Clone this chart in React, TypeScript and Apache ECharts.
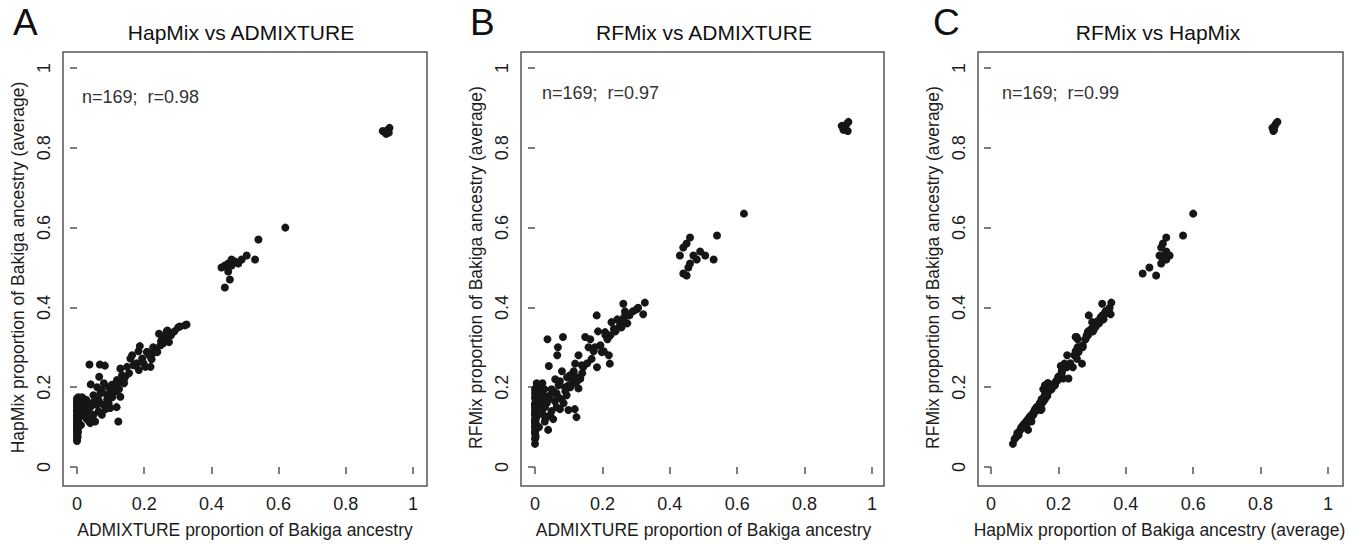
import { useEffect, useRef } from "react";
import * as echarts from "echarts";

// Each individual: [ADMIXTURE, HapMix (average), RFMix (average)] proportion of Bakiga ancestry
type Ind = [number, number, number];

const columnAtZero: Ind[] = [
  [0, 0.065, 0.058], [0, 0.07, 0.07], [0.002, 0.075, 0.075], [0, 0.078, 0.085], [0.001, 0.082, 0.08],
  [0, 0.085, 0.09], [0.003, 0.088, 0.095], [0, 0.09, 0.1], [0.001, 0.093, 0.098], [0.002, 0.095, 0.105],
  [0, 0.098, 0.1], [0, 0.1, 0.11], [0.003, 0.103, 0.108], [0.001, 0.105, 0.115], [0, 0.108, 0.112],
  [0.002, 0.11, 0.12], [0, 0.112, 0.118], [0.004, 0.115, 0.125], [0.001, 0.118, 0.122], [0, 0.12, 0.13],
  [0.003, 0.122, 0.128], [0, 0.125, 0.135], [0.002, 0.128, 0.14], [0, 0.13, 0.138], [0.001, 0.132, 0.145],
  [0.004, 0.135, 0.142], [0, 0.138, 0.15], [0.002, 0.14, 0.148], [0, 0.142, 0.155], [0.003, 0.145, 0.152],
  [0.001, 0.147, 0.16], [0, 0.15, 0.158], [0.004, 0.152, 0.165], [0.002, 0.155, 0.17], [0, 0.157, 0.175],
  [0.001, 0.16, 0.17], [0.005, 0.162, 0.18], [0, 0.165, 0.185], [0.003, 0.167, 0.178], [0.002, 0.17, 0.19],
  [0, 0.172, 0.195], [0.004, 0.175, 0.2], [0.006, 0.16, 0.205], [0.005, 0.168, 0.21], [0.007, 0.155, 0.195],
];

const upperArm: Ind[] = [
  [0.008, 0.172, 0.2], [0.012, 0.168, 0.19], [0.015, 0.175, 0.205], [0.018, 0.165, 0.185], [0.022, 0.17, 0.21],
  [0.025, 0.162, 0.18], [0.028, 0.168, 0.195], [0.032, 0.16, 0.175], [0.01, 0.158, 0.17], [0.02, 0.15, 0.16],
];

const lowerArm: Ind[] = [
  [0.015, 0.14, 0.15], [0.02, 0.13, 0.14], [0.025, 0.125, 0.13], [0.029, 0.12, 0.114], [0.035, 0.115, 0.125],
  [0.039, 0.11, 0.093], [0.045, 0.12, 0.13], [0.054, 0.114, 0.12], [0.012, 0.105, 0.1], [0.03, 0.135, 0.15],
];

const lowBlob: Ind[] = [
  [0.049, 0.18, 0.195], [0.064, 0.168, 0.185], [0.074, 0.193, 0.215], [0.079, 0.156, 0.17], [0.089, 0.181, 0.2],
  [0.099, 0.148, 0.143], [0.104, 0.206, 0.23], [0.114, 0.189, 0.21], [0.119, 0.218, 0.259], [0.129, 0.176, 0.197],
  [0.134, 0.214, 0.222], [0.139, 0.218, 0.255], [0.059, 0.156, 0.165], [0.074, 0.131, 0.145], [0.064, 0.139, 0.15],
  [0.049, 0.131, 0.14], [0.055, 0.17, 0.19], [0.085, 0.145, 0.16], [0.095, 0.2, 0.225], [0.118, 0.15, 0.145],
  [0.07, 0.185, 0.205], [0.04, 0.15, 0.17], [0.09, 0.17, 0.19], [0.12, 0.2, 0.226], [0.1, 0.19, 0.205],
  [0.06, 0.2, 0.22], [0.08, 0.21, 0.24], [0.045, 0.16, 0.18], [0.105, 0.175, 0.2], [0.125, 0.195, 0.215],
  [0.035, 0.145, 0.16], [0.115, 0.21, 0.24], [0.069, 0.16, 0.175], [0.094, 0.16, 0.18], [0.11, 0.2, 0.22],
];

const outliers: Ind[] = [
  [0.037, 0.257, 0.32], [0.068, 0.257, 0.3], [0.083, 0.254, 0.326], [0.066, 0.226, 0.28], [0.041, 0.207, 0.253],
  [0.123, 0.114, 0.125],
];

const chain: Ind[] = [
  [0.129, 0.247, 0.28], [0.134, 0.23, 0.222], [0.143, 0.225, 0.25], [0.149, 0.251, 0.326], [0.159, 0.272, 0.3],
  [0.164, 0.28, 0.32], [0.168, 0.255, 0.271], [0.174, 0.255, 0.29], [0.183, 0.29, 0.38], [0.184, 0.243, 0.25],
  [0.187, 0.303, 0.34], [0.194, 0.272, 0.305], [0.198, 0.26, 0.288], [0.204, 0.251, 0.29], [0.208, 0.288, 0.338],
  [0.209, 0.288, 0.33], [0.219, 0.251, 0.28], [0.222, 0.27, 0.259], [0.224, 0.284, 0.33], [0.227, 0.3, 0.363],
  [0.234, 0.297, 0.346], [0.239, 0.288, 0.34], [0.244, 0.334, 0.37], [0.249, 0.305, 0.35], [0.254, 0.321, 0.36],
  [0.257, 0.31, 0.35], [0.262, 0.33, 0.409], [0.264, 0.325, 0.375], [0.267, 0.34, 0.39], [0.269, 0.342, 0.385],
  [0.274, 0.313, 0.36], [0.28, 0.33, 0.38], [0.301, 0.35, 0.395], [0.306, 0.352, 0.399], [0.321, 0.355, 0.383],
  [0.326, 0.357, 0.412], [0.14, 0.21, 0.235], [0.155, 0.235, 0.26], [0.178, 0.26, 0.3], [0.215, 0.28, 0.32],
  [0.25, 0.315, 0.365], [0.29, 0.34, 0.39],
];

const middleCluster: Ind[] = [
  [0.43, 0.5, 0.53], [0.44, 0.505, 0.55], [0.45, 0.51, 0.56], [0.46, 0.52, 0.575], [0.47, 0.515, 0.53],
  [0.48, 0.51, 0.52], [0.49, 0.52, 0.54], [0.455, 0.47, 0.5], [0.44, 0.45, 0.485], [0.505, 0.53, 0.53],
  [0.53, 0.52, 0.52], [0.54, 0.57, 0.58], [0.62, 0.6, 0.635], [0.46, 0.505, 0.51], [0.45, 0.49, 0.48],
];

const highCluster: Ind[] = [
  [0.915, 0.84, 0.845], [0.92, 0.835, 0.85], [0.925, 0.845, 0.86], [0.93, 0.85, 0.865], [0.91, 0.842, 0.855],
  [0.928, 0.838, 0.842],
];

const individuals: Ind[] = [
  ...columnAtZero, ...upperArm, ...lowerArm, ...lowBlob, ...outliers, ...chain, ...middleCluster, ...highCluster,
];
const admixture = individuals.map((d) => d[0]);
const hapmix = individuals.map((d) => d[1]);
const rfmix = individuals.map((d) => d[2]);

const panelLetters = ["A", "B", "C"];
const panelTitles = ["HapMix vs ADMIXTURE", "RFMix vs ADMIXTURE", "RFMix vs HapMix"];
const xNames = [
  "ADMIXTURE proportion of Bakiga ancestry",
  "ADMIXTURE proportion of Bakiga ancestry",
  "HapMix proportion of Bakiga ancestry (average)",
];
const yNames = [
  "HapMix proportion of Bakiga ancestry (average)",
  "RFMix proportion of Bakiga ancestry (average)",
  "RFMix proportion of Bakiga ancestry (average)",
];
const notes = ["n=169;  r=0.98", "n=169;  r=0.97", "n=169;  r=0.99"];
const xData = [admixture, admixture, hapmix];
const yData = [hapmix, rfmix, rfmix];

// layout (pixels)
const innerLeft = [77, 535, 991];
const innerWidth = [336, 337, 337];
const innerTop = 68;
const innerHeight = 401;
const boxLeft = [63, 521, 978];
const boxRight = [427, 884, 1343];
const boxTop = 52;
const boxBottom = 486;
const letterX = [13, 470, 933];
const titleX = [241, 704, 1158];
const noteX = [82, 542, 1002];
const noteY = [97, 93, 93];

const FONT = "'Liberation Sans', Arial, Helvetica, sans-serif";
const AXIS_COLOR = "#555";
const TEXT_COLOR = "#1c1c1c";

export default function App() {
  const ref = useRef<HTMLDivElement>(null);
  useEffect(() => {
    if (!ref.current) return;
    const chart = echarts.init(ref.current, null, { renderer: "svg" });
    const grids: any[] = [];
    const xAxes: any[] = [];
    const yAxes: any[] = [];
    const series: any[] = [];
    const graphics: any[] = [];
    for (let i = 0; i < 3; i++) {
      grids.push({ left: innerLeft[i], top: innerTop, width: innerWidth[i], height: innerHeight });
      const common = {
        type: "value",
        min: 0,
        max: 1,
        interval: 0.2,
        nameLocation: "middle",
        nameTextStyle: { fontFamily: FONT, fontSize: 17.5, color: TEXT_COLOR },
        axisLine: { show: false },
        axisTick: { show: true, length: 7, lineStyle: { color: AXIS_COLOR, width: 1.5 } },
        splitLine: { show: false },
      };
      xAxes.push({
        ...common,
        gridIndex: i,
        position: "bottom",
        offset: boxBottom - (innerTop + innerHeight),
        name: xNames[i],
        nameGap: 37,
        axisLabel: { fontFamily: FONT, fontSize: 18, color: TEXT_COLOR, margin: 11 },
      });
      yAxes.push({
        ...common,
        gridIndex: i,
        position: "left",
        offset: innerLeft[i] - boxLeft[i],
        name: yNames[i],
        nameGap: 36,
        axisLabel: { fontFamily: FONT, fontSize: 18, color: TEXT_COLOR, margin: 10, rotate: 90 },
      });
      series.push({
        type: "scatter",
        xAxisIndex: i,
        yAxisIndex: i,
        symbol: "circle",
        symbolSize: 8,
        clip: false,
        itemStyle: { color: "#161616", opacity: 1 },
        data: xData[i].map((v, k) => [v, yData[i][k]]),
      });
      graphics.push({
        type: "rect",
        shape: { x: boxLeft[i], y: boxTop, width: boxRight[i] - boxLeft[i], height: boxBottom - boxTop },
        style: { fill: "none", stroke: AXIS_COLOR, lineWidth: 1.5 },
        z: 10,
      });
      graphics.push({
        type: "text",
        x: letterX[i],
        y: 22,
        style: { text: panelLetters[i], font: `37px ${FONT}`, fill: "#111", align: "left", verticalAlign: "middle" },
      });
      graphics.push({
        type: "text",
        x: titleX[i],
        y: 32,
        style: { text: panelTitles[i], font: `21px ${FONT}`, fill: "#111", align: "center", verticalAlign: "middle" },
      });
      graphics.push({
        type: "text",
        x: noteX[i],
        y: noteY[i],
        style: { text: notes[i], font: `18px ${FONT}`, fill: "#333", align: "left", verticalAlign: "middle" },
      });
    }
    chart.setOption({
      animation: false,
      backgroundColor: "#fff",
      grid: grids,
      xAxis: xAxes,
      yAxis: yAxes,
      series,
      graphic: graphics,
    });
    return () => chart.dispose();
  }, []);
  return (
    <div
      ref={ref}
      style={{ position: "fixed", left: 0, top: 0, width: 1371, height: 544 }}
    />
  );
}
